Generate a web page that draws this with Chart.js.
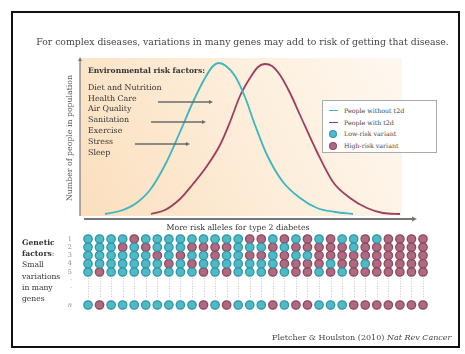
<!DOCTYPE html>
<html>
<head>
<meta charset="utf-8">
<script src="https://cdn.jsdelivr.net/npm/chart.js@4.4.1/dist/chart.umd.min.js"></script>
<style>
  html, body { margin: 0; padding: 0; background: #fff; }
  #page { position: relative; width: 465px; height: 354px; overflow: hidden;
          font-family: "DejaVu Serif", serif; color: #3a3a3a; }
  #frame { position: absolute; left: 11px; top: 11px; width: 449px; height: 337px;
           border: 2px solid #111; box-sizing: border-box; }
  canvas { position: absolute; left: 0; top: 0; }
  .t { position: absolute; white-space: nowrap; line-height: 1; }
  #title { left: 0; width: 485px; top: 37px; text-align: center; font-size: 9.3px; color: #444; }
  #env { left: 88px; top: 66px; font-size: 7.9px; line-height: 10.8px; color: #333; }
  #env b { display: block; margin-bottom: 6px; font-size: 7.6px; }
  #ylab { left: 70px; top: 138px; font-size: 7.8px; color: #555;
          transform: translate(-50%, -50%) rotate(-90deg); }
  #xlab { left: 238px; top: 224px; font-size: 7.8px; color: #333; transform: translateX(-50%); }
  #gen { left: 22px; top: 237px; font-size: 7.6px; line-height: 11.2px; color: #333; }
  #legend { position: absolute; left: 322px; top: 100px; width: 115px; height: 53px;
            border: 1.5px solid #aaa; box-sizing: border-box; background: #fff;
            font-size: 6.3px; color: #444; padding-top: 4px; }
  #legend div { height: 11.6px; display: flex; align-items: center; padding-left: 6px; }
  #legend i { display: inline-block; margin-right: 6px; }
  #legend .ln { width: 9px; height: 1.4px; }
  #legend .dt { width: 6px; height: 6px; border-radius: 50%; margin-left: 1px; margin-right: 8px; }
  #src { left: 272px; top: 334px; font-size: 8px; color: #444; }
</style>
</head>
<body>
<div id="page">
  <div id="frame"></div>
  <canvas id="curves" width="465" height="354"></canvas>
  <canvas id="alleles" width="465" height="354"></canvas>
  <div class="t" id="title">For complex diseases, variations in many genes may add to risk of getting that disease.</div>
  <div class="t" id="env"><b>Environmental risk factors:</b>Diet and Nutrition<br>Health Care<br>Air Quality<br>Sanitation<br>Exercise<br>Stress<br>Sleep</div>
  <div class="t" id="ylab">Number of people in population</div>
  <div class="t" id="xlab">More risk alleles for type 2 diabetes</div>
  <div class="t" id="gen"><b>Genetic</b><br><b>factors</b>:<br>Small<br>variations<br>in many<br>genes</div>
  <div id="legend"></div>
  <div class="t" id="src">Fletcher &amp; Houlston (2010) <i>Nat Rev Cancer</i></div>
</div>
<script>
  // distribution curves: risk-allele score vs. number of people
  const scoreWithout = [25, 40, 55, 70, 85, 100, 113, 125, 133, 139, 146, 155, 165, 175, 187, 203, 220, 237, 255, 273];
  const countWithout = [2, 5, 12, 26, 51, 84, 114, 138, 150, 153, 150, 140, 119, 91, 61, 34, 18, 8, 4, 2];
  const scoreWith = [71, 85, 100, 113, 127, 140, 150, 160, 170, 178, 185, 192, 200, 210, 220, 237, 253, 270, 287, 303, 320];
  const countWith = [2, 6, 17, 32, 50, 71, 94, 120, 138, 149, 152, 150, 141, 123, 101, 64, 34, 18, 8, 3, 2];

  // environmental factor arrows: [from score, to score, height]
  const envArrows = [[78, 133, 114], [71, 126, 94], [55, 110, 72]];

  // allele grid: one string per gene, L = low-risk, H = high-risk, one char per person
  const geneLabels = ['1', '2', '3', '4', '5', '·', '·', '', 'n'];
  const geneRows = {
    '1': 'LLLLHLLLLLLLLLHHLHLHLHLLHLHHHH',
    '2': 'LLLHLHLLLHHHHLLLHLHHHHHLHHHHHH',
    '3': 'LLLLLLHLHLLHLLHHLHLLHHHHHHHHHH',
    '4': 'LLLLLLLHLHLLLLLLLHHHHLHHLHHHHH',
    '5': 'LHLLLLLLLLHLHLLLHLHHLHLHHHHHHH',
    'n': 'LHLLLLLLLLHLHLLLHLHHLLLHHHHHHH',
  };

  const TEAL = '#3cb6c0', MAROON = '#9d3d60';
  const DOT_LOW = '#4fb9c6', DOT_LOW_EDGE = '#2f97a8';
  const DOT_HIGH = '#ad6a80', DOT_HIGH_EDGE = '#8e4862';

  // ---------------------------------------------------------- legend ----
  document.getElementById('legend').innerHTML = [
    `<i class="ln" style="background:${TEAL}"></i>People without t2d`,
    `<i class="ln" style="background:${MAROON}"></i>People with t2d`,
    `<i class="dt" style="background:${DOT_LOW};box-shadow:0 0 0 1px ${DOT_LOW_EDGE}"></i>Low-risk variant`,
    `<i class="dt" style="background:${DOT_HIGH};box-shadow:0 0 0 1px ${DOT_HIGH_EDGE}"></i>High-risk variant`,
  ].map(s => `<div>${s}</div>`).join('');

  // ---------------------------------------------------------- curves ----
  const backdrop = {
    id: 'backdrop',
    beforeDatasetsDraw(chart) {
      const { ctx, chartArea: a, scales: { x } } = chart;
      const right = x.getPixelForValue(322);
      const g = ctx.createLinearGradient(a.left, a.bottom, right, a.top);
      g.addColorStop(0, '#fbdfbd');
      g.addColorStop(0.55, '#fdeedb');
      g.addColorStop(1, '#fef8f0');
      ctx.save();
      ctx.fillStyle = g;
      ctx.fillRect(a.left, a.top - 2, right - a.left, a.bottom - a.top + 2);
      ctx.restore();
    },
    afterDraw(chart) {
      const { ctx, chartArea: a, scales: { x, y } } = chart;
      const head = (px, py, dx, dy, s) => {
        ctx.beginPath();
        ctx.moveTo(px, py);
        ctx.lineTo(px - dx * s - dy * s * 0.5, py - dy * s - dx * s * 0.5);
        ctx.lineTo(px - dx * s + dy * s * 0.5, py - dy * s + dx * s * 0.5);
        ctx.closePath();
        ctx.fill();
      };
      ctx.save();
      ctx.strokeStyle = ctx.fillStyle = '#777';
      // y axis
      ctx.lineWidth = 1.2;
      ctx.beginPath(); ctx.moveTo(a.left, a.bottom); ctx.lineTo(a.left, a.top); ctx.stroke();
      head(a.left, a.top - 3, 0, -1, 4);
      // x axis
      ctx.lineWidth = 2;
      ctx.beginPath(); ctx.moveTo(a.left + 4, a.bottom + 3); ctx.lineTo(a.right - 2, a.bottom + 3); ctx.stroke();
      head(a.right + 2, a.bottom + 3, 1, 0, 5);
      // environmental factor arrows
      ctx.strokeStyle = ctx.fillStyle = '#6b6b6b';
      ctx.lineWidth = 1.3;
      envArrows.forEach(([from, to, h]) => {
        const py = y.getPixelForValue(h), x0 = x.getPixelForValue(from), x1 = x.getPixelForValue(to);
        ctx.beginPath(); ctx.moveTo(x0, py); ctx.lineTo(x1 - 3, py); ctx.stroke();
        head(x1, py, 1, 0, 4);
      });
      ctx.restore();
    },
  };

  new Chart(document.getElementById('curves'), {
    type: 'line',
    data: {
      datasets: [
        { label: 'People without t2d', data: scoreWithout.map((s, i) => ({ x: s, y: countWithout[i] })),
          borderColor: TEAL, borderWidth: 1.8 },
        { label: 'People with t2d', data: scoreWith.map((s, i) => ({ x: s, y: countWith[i] })),
          borderColor: MAROON, borderWidth: 1.8 },
      ],
    },
    options: {
      responsive: false, animation: false, events: [],
      layout: { padding: { left: 80, right: 50, top: 60, bottom: 138 } },
      elements: { point: { radius: 0 }, line: { cubicInterpolationMode: 'monotone' } },
      scales: {
        x: { type: 'linear', min: 0, max: 335, display: false },
        y: { type: 'linear', min: 0, max: 156, display: false },
      },
      plugins: { legend: { display: false }, tooltip: { enabled: false } },
    },
    plugins: [backdrop],
  });

  // ----------------------------------------------------- allele grid ----
  const low = [], high = [];
  Object.entries(geneRows).forEach(([gene, row]) => {
    [...row].forEach((v, person) => (v === 'H' ? high : low).push({ x: person, y: gene }));
  });

  const dottedLinks = {
    id: 'dottedLinks',
    beforeDatasetsDraw(chart) {
      const { ctx, scales: { x, y } } = chart;
      const y0 = y.getPixelForValue(4) + 6, y1 = y.getPixelForValue(8) - 6;
      ctx.save();
      ctx.strokeStyle = '#b8b8b8';
      ctx.lineWidth = 0.8;
      ctx.setLineDash([1, 1.6]);
      for (let p = 0; p < geneRows['1'].length; p++) {
        const px = Math.round(x.getPixelForValue(p)) + 0.5;
        ctx.beginPath(); ctx.moveTo(px, y0); ctx.lineTo(px, y1); ctx.stroke();
      }
      ctx.restore();
    },
  };

  new Chart(document.getElementById('alleles'), {
    type: 'scatter',
    data: {
      labels: geneLabels,
      datasets: [
        { label: 'Low-risk variant', data: low, backgroundColor: DOT_LOW, borderColor: DOT_LOW_EDGE },
        { label: 'High-risk variant', data: high, backgroundColor: DOT_HIGH, borderColor: DOT_HIGH_EDGE },
      ],
    },
    options: {
      responsive: false, animation: false, events: [],
      layout: { padding: { left: 0, right: 42, top: 239, bottom: 49 } },
      elements: { point: { radius: 4.2, borderWidth: 1.3, pointStyle: 'circle' } },
      datasets: { scatter: { clip: false } },
      scales: {
        x: { type: 'linear', min: 0, max: 29, display: false },
        y: {
          type: 'category', labels: geneLabels, offset: false,
          afterFit: s => { s.width = 88; },
          grid: { display: false, drawTicks: false }, border: { display: false },
          ticks: {
            padding: 16, color: '#8a8a8a', autoSkip: false,
            font: ctx => ({ family: 'DejaVu Serif', size: 6.5, style: ctx.tick && ctx.tick.label === 'n' ? 'italic' : 'normal' }),
          },
        },
      },
      plugins: { legend: { display: false }, tooltip: { enabled: false } },
    },
    plugins: [dottedLinks],
  });
</script>
</body>
</html>
